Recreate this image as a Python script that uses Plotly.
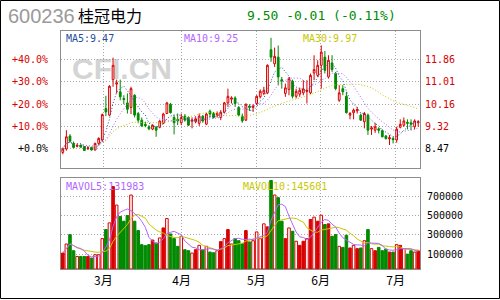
import plotly.graph_objects as go
import pandas as pd

# ---------------- data ----------------
opens = [8.34, 8.47, 8.96, 8.68, 8.57, 8.62, 8.56, 8.48, 8.53, 8.43,
         8.68, 8.81, 10.00, 9.75, 11.09, 10.92, 10.63, 10.38, 10.21, 10.04,
         10.50, 9.81, 9.56, 9.40, 9.31, 9.22, 9.29, 9.29, 9.44, 9.81,
         10.16, 9.66, 9.59, 9.46, 9.71, 9.66, 9.52, 9.50, 9.44, 9.71,
         9.41, 9.90, 9.81, 9.76, 9.66, 9.86, 10.21, 10.35, 10.40, 10.04,
         9.71, 9.56, 10.09, 10.04, 10.19, 10.44, 10.57, 10.59, 12.22, 11.69,
         11.94, 11.09, 10.57, 10.72, 11.03, 10.46, 10.54, 10.59, 10.64, 10.59,
         11.34, 11.25, 11.63, 11.94, 11.19, 11.72, 11.32, 10.31, 10.75, 10.46,
         9.75, 9.84, 9.91, 9.75, 9.50, 9.75, 9.22, 9.18, 9.23, 9.16,
         8.96, 8.85, 8.87, 8.81, 9.29, 9.37, 9.48, 9.46, 9.31, 9.46]
highs = [8.53, 9.18, 9.03, 8.75, 8.68, 8.65, 8.58, 8.58, 8.55, 8.71,
         8.91, 9.81, 10.48, 10.88, 11.92, 11.09, 11.09, 10.50, 10.57, 10.82,
         10.54, 9.87, 9.66, 9.50, 9.37, 9.40, 9.34, 9.56, 9.84, 10.25,
         10.21, 9.75, 9.81, 9.81, 9.79, 9.71, 9.66, 9.71, 9.81, 9.75,
         9.84, 9.96, 9.87, 9.89, 9.94, 10.25, 10.75, 10.46, 10.46, 10.09,
         9.81, 10.19, 10.16, 10.16, 10.50, 10.72, 10.82, 11.67, 12.67, 12.30,
         12.38, 11.19, 10.94, 11.19, 11.09, 10.75, 10.79, 11.07, 11.07, 11.32,
         12.01, 11.82, 12.38, 12.17, 12.01, 12.01, 11.38, 10.88, 10.88, 10.63,
         9.87, 10.00, 10.06, 9.81, 9.87, 9.81, 9.34, 9.46, 9.29, 9.21,
         9.00, 9.00, 8.93, 9.31, 9.59, 9.66, 9.59, 9.59, 9.59, 9.56]
lows = [8.27, 8.41, 8.71, 8.49, 8.53, 8.52, 8.40, 8.43, 8.42, 8.42,
        8.62, 8.74, 9.71, 9.71, 10.82, 10.57, 10.31, 10.16, 9.81, 9.79,
        9.66, 9.44, 9.31, 9.29, 9.18, 9.18, 8.93, 9.25, 9.41, 9.79,
        9.81, 9.02, 9.37, 9.37, 9.50, 9.34, 9.25, 9.44, 9.34, 9.46,
        9.37, 9.66, 9.62, 9.66, 9.56, 9.81, 10.06, 10.19, 10.06, 9.71,
        9.46, 9.53, 9.91, 9.87, 10.13, 10.38, 10.50, 10.54, 11.76, 11.57,
        10.88, 10.75, 10.44, 10.50, 10.38, 10.38, 10.44, 10.50, 10.19, 10.54,
        11.07, 11.19, 10.75, 11.32, 11.13, 11.38, 10.69, 10.25, 10.50, 9.81,
        9.59, 9.59, 9.81, 9.53, 9.25, 9.00, 9.00, 9.08, 9.06, 8.91,
        8.83, 8.62, 8.68, 8.71, 9.25, 9.31, 9.21, 9.18, 9.21, 9.31]
closes = [8.47, 8.93, 8.76, 8.53, 8.61, 8.54, 8.41, 8.51, 8.43, 8.68,
          8.87, 9.77, 9.87, 10.84, 11.63, 10.97, 10.44, 10.34, 9.97, 10.75,
          9.75, 9.56, 9.34, 9.35, 9.23, 9.37, 9.18, 9.52, 9.79, 10.21,
          9.84, 9.46, 9.53, 9.66, 9.56, 9.37, 9.56, 9.61, 9.71, 9.53,
          9.79, 9.79, 9.66, 9.81, 9.86, 10.21, 10.46, 10.40, 10.19, 9.75,
          9.53, 10.16, 10.04, 10.09, 10.46, 10.65, 10.69, 11.63, 11.94, 11.97,
          11.19, 11.04, 10.78, 11.13, 10.46, 10.65, 10.69, 10.74, 10.69, 11.25,
          11.47, 11.63, 12.13, 11.44, 11.82, 11.47, 10.75, 10.59, 10.63, 9.84,
          9.81, 9.94, 9.96, 9.56, 9.81, 9.18, 9.27, 9.31, 9.18, 8.93,
          8.86, 8.90, 8.82, 9.22, 9.40, 9.53, 9.44, 9.41, 9.53, 9.50]
volumes = [114000, 207000, 303000, 138000, 79000, 79000, 79000, 79000, 62000, 97000,
           97000, 262000, 355000, 424000, 797000, 607000, 490000, 441000, 500000, 710000,
           441000, 345000, 200000, 190000, 200000, 248000, 217000, 269000, 372000, 469000,
           310000, 262000, 183000, 286000, 148000, 138000, 114000, 148000, 193000, 148000,
           183000, 124000, 117000, 138000, 231000, 262000, 355000, 207000, 262000, 241000,
           210000, 345000, 228000, 241000, 331000, 262000, 414000, 383000, 860000, 710000,
           683000, 441000, 262000, 372000, 338000, 235000, 193000, 235000, 262000, 459000,
           483000, 441000, 503000, 407000, 414000, 286000, 303000, 183000, 172000, 297000,
           166000, 193000, 159000, 166000, 241000, 355000, 159000, 138000, 172000, 138000,
           155000, 124000, 124000, 200000, 193000, 159000, 103000, 138000, 124000, 136000]
# volume bar style read per bar: h = hollow red, s = solid red, g = green
vol_kind = list("shgghggsgh" "hhghshgggh" "gggggsghsh" "ggghgghshg" "hgghshshgg"
                "gsghhhhsgh" "ggshghsshs" "hshgsgghgg" "shsghghsgg" "gsghshgghs")

month_labels = ["3月", "4月", "5月", "6月", "7月"]
month_pos = [11.3, 33.1, 53.9, 71.8, 92.7]
price_ticks = [8.47, 9.32, 10.16, 11.01, 11.86]
pct_labels = ["+0.0%", "+10.0%", "+20.0%", "+30.0%", "+40.0%"]
vol_ticks = [100000, 300000, 500000, 700000]

stock_code = "600236"
stock_name = "桂冠电力"
quote_text = "9.50 -0.01 (-0.11%)"
watermark = "CFI.CN"
# indicator readouts as printed on the chart
ma_readouts = ["MA5:9.47", "MA10:9.25", "MA30:9.97"]
vol_readouts = ["MAVOL5:131983", "MAVOL10:145601"]

# ---------------- derived ----------------
N = len(closes)
xs = list(range(N))
cs = pd.Series(closes)
ma5 = cs.rolling(5, min_periods=1).mean()
ma10 = cs.rolling(10, min_periods=1).mean()
ma30 = cs.rolling(30, min_periods=1).mean()
vs = pd.Series(volumes)
mavol5 = vs.rolling(5, min_periods=1).mean()
mavol10 = vs.rolling(10, min_periods=1).mean()

RED = "#d80000"
GREEN = "#008a00"
C_MA5 = "#1f4f9c"
C_MA10 = "#b266ff"
C_MA30 = "#c8c800"
GRID = "#a8a8a8"
BORDER = "#8c8c8c"
MONO = "DejaVu Sans Mono"

W, H = 500, 300
def px(v):
    return v / W
def py(v):
    return 1 - v / H

P_RANGE = [7.752, 12.927]
VOL_FLOOR = -50000
V_RANGE = [VOL_FLOOR, 885000]

fig = go.Figure()
fig.add_trace(go.Candlestick(
    x=xs, open=opens, high=highs, low=lows, close=closes,
    increasing=dict(line=dict(color=RED, width=1), fillcolor="white"),
    decreasing=dict(line=dict(color=GREEN, width=1), fillcolor=GREEN),
    whiskerwidth=0, xaxis="x", yaxis="y", hoverinfo="skip"))
for ma, col in [(ma30, C_MA30), (ma10, C_MA10), (ma5, C_MA5)]:
    fig.add_trace(go.Scatter(x=xs, y=ma, mode="lines", xaxis="x", yaxis="y",
                             line=dict(color=col, width=1, dash="1px,2px"), hoverinfo="skip"))
fig.add_trace(go.Scatter(x=[xs[0]], y=[price_ticks[0]], xaxis="x", yaxis="y3", mode="markers",
                         marker=dict(opacity=0), hoverinfo="skip"))

for kind, fill, lc in [("h", "white", RED), ("s", RED, RED), ("g", GREEN, GREEN)]:
    idx = [i for i, k in enumerate(vol_kind) if k == kind]
    fig.add_trace(go.Bar(x=idx, y=[volumes[i] - VOL_FLOOR for i in idx], base=VOL_FLOOR,
                         width=0.72, marker=dict(color=fill, line=dict(color=lc, width=1)),
                         xaxis="x2", yaxis="y2", hoverinfo="skip"))
fig.add_trace(go.Scatter(x=xs, y=mavol10, mode="lines", xaxis="x2", yaxis="y2",
                         line=dict(color=C_MA30, width=1), hoverinfo="skip"))
fig.add_trace(go.Scatter(x=xs, y=mavol5, mode="lines", xaxis="x2", yaxis="y2",
                         line=dict(color=C_MA10, width=1), hoverinfo="skip"))

price_text = [("<span style='color:black'>%.2f</span>" % v) if i == 0 else "%.2f" % v
              for i, v in enumerate(price_ticks)]
pct_text = [("<span style='color:black'>%s</span>" % t) if i == 0 else t
            for i, t in enumerate(pct_labels)]
vol_text = [str(v) for v in vol_ticks]

grid = dict(showgrid=True, gridcolor=GRID, griddash="1px,2px", gridwidth=1,
            showline=True, linecolor=BORDER, linewidth=1, mirror=True, zeroline=False, ticks="")
xdom = [px(61), px(420)]
fig.update_layout(
    width=W, height=H, margin=dict(l=0, r=0, t=0, b=0),
    paper_bgcolor="white", plot_bgcolor="white", showlegend=False, barmode="overlay",
    xaxis=dict(domain=xdom, range=[-0.5, N - 0.5], rangeslider=dict(visible=False),
               tickvals=month_pos, showticklabels=False, anchor="y", **grid),
    yaxis=dict(domain=[py(168), py(31)], range=P_RANGE, side="right", anchor="x",
               tickvals=price_ticks, ticktext=price_text,
               tickfont=dict(family=MONO, size=10, color=RED), ticklabelstandoff=2, **grid),
    yaxis3=dict(overlaying="y", anchor="x", side="left", range=P_RANGE,
                tickvals=price_ticks, ticktext=pct_text, showgrid=False, zeroline=False,
                showline=False, ticks="", ticklabelstandoff=12,
                tickfont=dict(family=MONO, size=10, color=RED)),
    xaxis2=dict(domain=xdom, range=[-0.5, N - 0.5], anchor="y2", tickvals=month_pos,
                ticktext=month_labels, ticklabelstandoff=1,
                tickfont=dict(family="Noto Sans CJK SC", size=12, color="black"), **grid),
    yaxis2=dict(domain=[py(269), py(178)], range=V_RANGE, side="right", anchor="x2",
                tickvals=vol_ticks, ticktext=vol_text,
                tickfont=dict(family=MONO, size=10, color="black"),
                ticklabelstandoff=4, **grid),
)

anns = [
    (stock_code, 7, 16, dict(family="Liberation Sans", size=20, color="#9a9a9a")),
    (stock_name, 77, 15, dict(family="Noto Sans CJK SC", size=16, color="black")),
    (quote_text, 246, 15, dict(family=MONO, size=13, color="#008c00")),
    (ma_readouts[0], 65, 38, dict(family=MONO, size=10, color=C_MA5)),
    (ma_readouts[1], 183, 38, dict(family=MONO, size=10, color=C_MA10)),
    (ma_readouts[2], 302, 38, dict(family=MONO, size=10, color=C_MA30)),
    (vol_readouts[0], 65, 186, dict(family=MONO, size=10, color=C_MA10)),
    (vol_readouts[1], 242, 186, dict(family=MONO, size=10, color=C_MA30)),
]
for text, x0, y0, font in anns:
    fig.add_annotation(text=text, xref="paper", yref="paper", x=px(x0), y=py(y0),
                       xanchor="left", yanchor="middle", showarrow=False, font=font, borderpad=0)

fig.add_shape(type="rect", xref="paper", yref="paper", x0=px(66), x1=px(178), y0=py(78), y1=py(52),
              line=dict(width=0), fillcolor="rgba(0,0,0,0)", layer="between",
              label=dict(text="<b>%s</b>" % watermark, textposition="middle center",
                         font=dict(family="Liberation Sans", size=30, color="#d4d4d4")))
fig.add_shape(type="rect", xref="paper", yref="paper", x0=px(0.5), x1=px(499.5),
              y0=py(298.5), y1=py(0.5), line=dict(color="black", width=1), layer="above")

fig.write_html("out.html")
